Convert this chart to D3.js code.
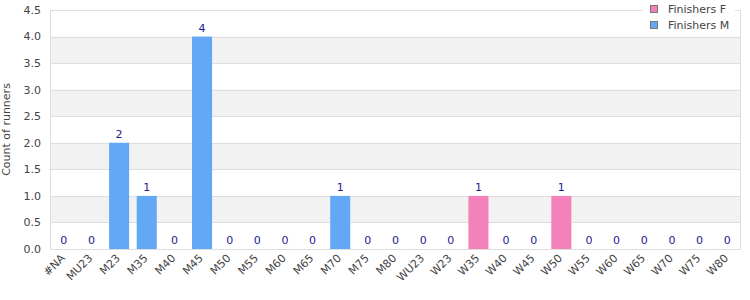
<!DOCTYPE html>
<html>
<head>
<meta charset="utf-8">
<script src="https://cdnjs.cloudflare.com/ajax/libs/d3/7.8.5/d3.min.js"></script>
<style>
  body { margin: 0; background: #fff; }
  svg { font-family: "DejaVu Sans", Verdana, sans-serif; }
</style>
</head>
<body>
<div id="chart"></div>
<script>
// categories and counts
var categories = ["#NA", "MU23", "M23", "M35", "M40", "M45", "M50", "M55", "M60", "M65", "M70", "M75", "M80",
  "WU23", "W23", "W35", "W40", "W45", "W50", "W55", "W60", "W65", "W70", "W75", "W80"];
var finishersF = [0, 0, 0, 0, 0, 0, 0, 0, 0, 0, 0, 0, 0, 0, 0, 1, 0, 0, 1, 0, 0, 0, 0, 0, 0];
var finishersM = [0, 0, 2, 1, 0, 4, 0, 0, 0, 0, 1, 0, 0, 0, 0, 0, 0, 0, 0, 0, 0, 0, 0, 0, 0];
var seriesNames = ["Finishers F", "Finishers M"];
var yTicks = [0, 0.5, 1, 1.5, 2, 2.5, 3, 3.5, 4, 4.5];

var width = 750, height = 300;
var margin = {top: 10, right: 9, bottom: 51, left: 50};
var colors = {"Finishers F": "#f282b9", "Finishers M": "#62a8f4"};

var svg = d3.select("#chart").append("svg")
  .attr("width", width)
  .attr("height", height);

var x = d3.scaleBand()
  .domain(categories)
  .range([margin.left, width - margin.right])
  .paddingInner(0.275)
  .paddingOuter(0.1375);

var y = d3.scaleLinear()
  .domain([0, 4.5])
  .range([height - margin.bottom, margin.top]);

// alternating background bands
var bands = yTicks.filter(function(d, i) { return i % 2 == 1 && d < 4.5; });
svg.append("g").selectAll("rect")
  .data(bands)
  .enter().append("rect")
    .attr("x", margin.left)
    .attr("width", width - margin.right - margin.left)
    .attr("y", function(d) { return y(d + 0.5); })
    .attr("height", function(d) { return y(d) - y(d + 0.5); })
    .attr("fill", "#f2f2f2");

// gridlines
svg.append("g").selectAll("line")
  .data(yTicks)
  .enter().append("line")
    .attr("x1", margin.left)
    .attr("x2", width - margin.right)
    .attr("y1", function(d) { return Math.round(y(d)) + 0.5; })
    .attr("y2", function(d) { return Math.round(y(d)) + 0.5; })
    .attr("stroke", "#dedede");

// frame
svg.append("rect")
  .attr("x", margin.left + 0.5)
  .attr("y", Math.round(y(4.5)) + 0.5)
  .attr("width", width - margin.right - margin.left - 1)
  .attr("height", Math.round(y(0)) - Math.round(y(4.5)))
  .attr("fill", "none")
  .attr("stroke", "#dedede");

// stacked data
var rows = categories.map(function(c, i) {
  return {cat: c, "Finishers F": finishersF[i], "Finishers M": finishersM[i]};
});
var stack = d3.stack().keys(["Finishers M", "Finishers F"]);
var layers = stack(rows);

svg.append("g").selectAll("g")
  .data(layers)
  .enter().append("g")
    .attr("fill", function(d) { return colors[d.key]; })
  .selectAll("rect")
  .data(function(d) { return d; })
  .enter().append("rect")
    .attr("x", function(d) { return x(d.data.cat); })
    .attr("width", x.bandwidth())
    .attr("y", function(d) { return y(d[1]); })
    .attr("height", function(d) { return y(d[0]) - y(d[1]); });

// value labels (totals)
svg.append("g").selectAll("text")
  .data(rows)
  .enter().append("text")
    .attr("x", function(d) { return x(d.cat) + x.bandwidth() / 2; })
    .attr("y", function(d) { return y(d["Finishers F"] + d["Finishers M"]) - 5; })
    .attr("text-anchor", "middle")
    .attr("font-size", "11px")
    .attr("fill", "#1c1c90")
    .text(function(d) { return d["Finishers F"] + d["Finishers M"]; });

// y axis labels
svg.append("g").selectAll("text")
  .data(yTicks)
  .enter().append("text")
    .attr("x", margin.left - 9)
    .attr("y", function(d) { return y(d); })
    .attr("dy", "0.35em")
    .attr("text-anchor", "end")
    .attr("font-size", "11px")
    .attr("fill", "#444")
    .text(function(d) { return d.toFixed(1); });

// x axis labels
svg.append("g").selectAll("text")
  .data(categories)
  .enter().append("text")
    .attr("text-anchor", "end")
    .attr("font-size", "11px")
    .attr("fill", "#444")
    .attr("transform", function(d) {
      return "translate(" + (x(d) + x.bandwidth() / 2 - 1) + "," + (y(0) + 7) + ") rotate(-45)";
    })
    .attr("dy", "0.35em")
    .text(function(d) { return d; });

// y axis title
svg.append("text")
  .attr("transform", "translate(10," + ((margin.top + height - margin.bottom) / 2) + ") rotate(-90)")
  .attr("text-anchor", "middle")
  .attr("font-size", "11px")
  .attr("fill", "#444")
  .text("Count of runners");

// legend
var legend = svg.append("g");
legend.append("rect")
  .attr("x", 643)
  .attr("y", 0)
  .attr("width", 92)
  .attr("height", 33)
  .attr("fill", "#fff");
var items = legend.selectAll("g")
  .data(seriesNames)
  .enter().append("g")
    .attr("transform", function(d, i) { return "translate(650," + (5 + i * 16) + ")"; });
items.append("rect")
  .attr("x", 0.5)
  .attr("y", 0.5)
  .attr("width", 7)
  .attr("height", 7)
  .attr("fill", function(d) { return colors[d]; })
  .attr("stroke", "#777");
items.append("text")
  .attr("x", 18)
  .attr("y", 4)
  .attr("dy", "0.35em")
  .attr("font-size", "11px")
  .attr("fill", "#444")
  .text(function(d) { return d; });
</script>
</body>
</html>
